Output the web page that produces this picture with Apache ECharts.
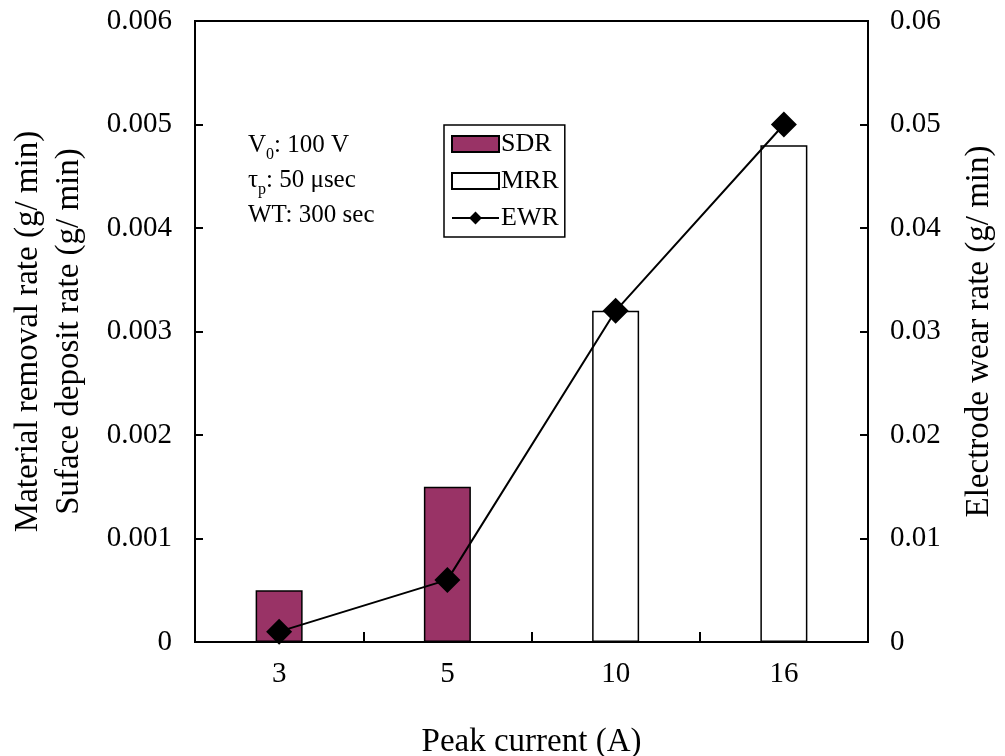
<!DOCTYPE html>
<html>
<head>
<meta charset="utf-8">
<script src="https://cdn.jsdelivr.net/npm/echarts@6/dist/echarts.min.js"></script>
<style>html,body{margin:0;padding:0;background:#fff}#c{width:1005px;height:756px}</style>
</head>
<body>
<div id="c"></div>
<script>
const categories = ['3', '5', '10', '16'];
const sdrValues = [0.0005, 0.0015, '-', '-'];
const mrrValues = ['-', '-', 0.0032, 0.0048];
const ewrValues = [0.001, 0.006, 0.032, 0.05];
const leftTicks = [0, 0.001, 0.002, 0.003, 0.004, 0.005, 0.006];
const rightTicks = [0, 0.01, 0.02, 0.03, 0.04, 0.05, 0.06];

const FONT = 'Liberation Serif';
const chart = echarts.init(document.getElementById('c'), null, {renderer: 'canvas'});
const axisLine = {show: true, lineStyle: {color: '#000', width: 2}};
chart.setOption({
  backgroundColor: '#fff',
  textStyle: {fontFamily: FONT, color: '#000'},
  grid: {left: 195, right: 137, top: 21, bottom: 114, show: true, borderColor: '#000', borderWidth: 2,
    containLabel: false, outerBoundsMode: 'none'},
  legend: {
    orient: 'vertical', left: 444, top: 125,
    data: [{name: 'SDR', icon: 'rect'}, {name: 'MRR', icon: 'rect'}, {name: 'EWR'}],
    itemWidth: 47, itemHeight: 16, itemGap: 11,
    padding: [6, 6, 6, 7],
    borderColor: '#000', borderWidth: 1.5,
    textStyle: {fontFamily: FONT, fontSize: 26, color: '#000', padding: [0, 0, 0, -3], lineHeight: 26}
  },
  graphic: [{
    type: 'text', left: 248, top: 128,
    style: {
      text: 'V{sub|0}: 100 V\nτ{sub|p}: 50 μsec\nWT: 300 sec',
      font: '25px "Liberation Serif"', fill: '#000', lineHeight: 35,
      rich: {sub: {fontSize: 16, verticalAlign: 'bottom', padding: [10, 0, 0, 0], fontFamily: FONT, lineHeight: 35}}
    }
  }],
  xAxis: {
    type: 'category', data: categories,
    axisLine: axisLine,
    axisTick: {show: true, inside: true, length: 10, lineStyle: {color: '#000', width: 2}},
    axisLabel: {fontSize: 29, color: '#000', margin: 18, fontFamily: FONT},
    name: 'Peak current (A)', nameLocation: 'middle', nameGap: 84,
    nameTextStyle: {fontSize: 33, color: '#000', fontFamily: FONT}
  },
  yAxis: [{
    type: 'value', min: 0, max: 0.006, interval: 0.001,
    axisLine: axisLine,
    axisTick: {show: true, inside: true, length: 8, lineStyle: {color: '#000', width: 2}},
    splitLine: {show: false},
    axisLabel: {fontSize: 29, color: '#000', margin: 23, fontFamily: FONT,
      formatter: v => { const t = leftTicks.find(x => Math.abs(x - v) < 1e-9); return t === 0 ? '0' : t.toFixed(3); }},
    name: 'Material removal rate (g/ min)\nSuface deposit rate (g/ min)',
    nameLocation: 'middle', nameGap: 105, nameRotate: 90,
    nameTextStyle: {fontSize: 33, color: '#000', fontFamily: FONT, lineHeight: 41, align: 'center'}
  }, {
    type: 'value', min: 0, max: 0.06, interval: 0.01, position: 'right',
    axisLine: axisLine,
    axisTick: {show: true, inside: true, length: 8, lineStyle: {color: '#000', width: 2}},
    splitLine: {show: false},
    axisLabel: {fontSize: 29, color: '#000', margin: 22, fontFamily: FONT,
      formatter: v => { const t = rightTicks.find(x => Math.abs(x - v) < 1e-9); return t === 0 ? '0' : t.toFixed(2); }},
    name: 'Electrode wear rate (g/ min)',
    nameLocation: 'middle', nameGap: 95, nameRotate: 90,
    nameTextStyle: {fontSize: 33, color: '#000', fontFamily: FONT}
  }],
  series: [{
    name: 'SDR', type: 'bar', data: sdrValues, barWidth: 47, barGap: '-100%',
    itemStyle: {color: '#993366', borderColor: '#000', borderWidth: 1.5}
  }, {
    name: 'MRR', type: 'bar', data: mrrValues, barWidth: 47, barGap: '-100%',
    itemStyle: {color: '#fff', borderColor: '#000', borderWidth: 1.5}
  }, {
    name: 'EWR', type: 'line', yAxisIndex: 1, data: ewrValues, z: 5,
    symbol: 'diamond', symbolSize: 26,
    lineStyle: {color: '#000', width: 2},
    itemStyle: {color: '#000'}
  }],
  animation: false
});
</script>
</body>
</html>
